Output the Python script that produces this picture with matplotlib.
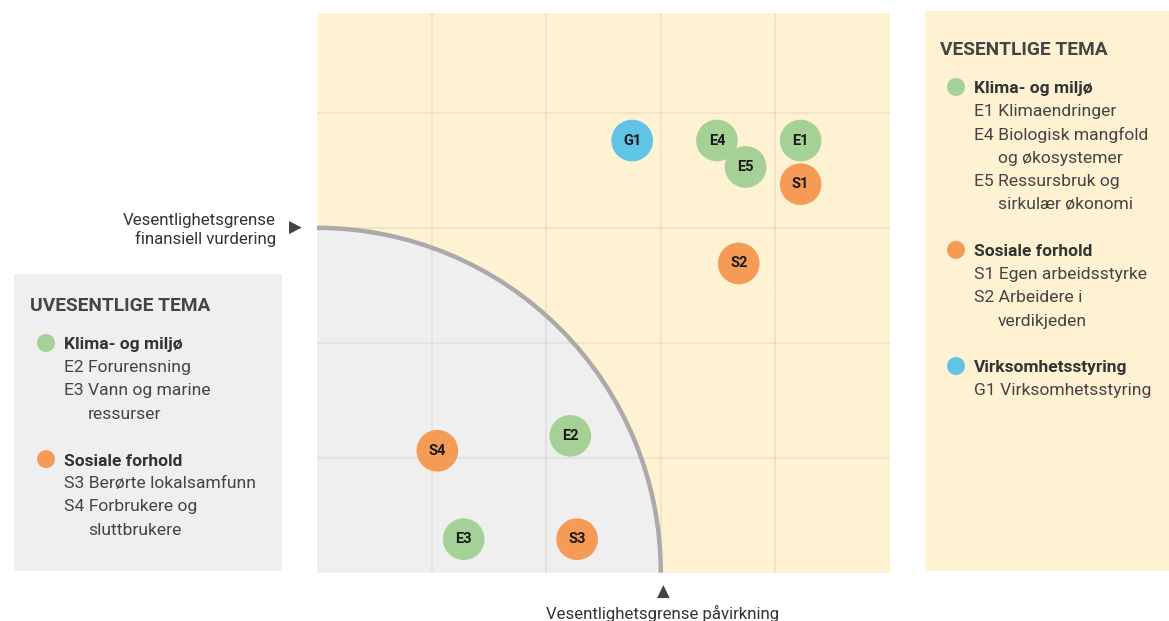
import matplotlib.pyplot as plt
from matplotlib.patches import Wedge, Arc, Rectangle, Ellipse
import numpy as np

plt.rcParams['font.family'] = ['Roboto', 'DejaVu Sans']

# data: tema, x = paavirkning, y = finansiell
koder = ["G1", "E4", "E1", "E5", "S1", "S2", "E2", "S4", "E3", "S3"]
xverdi = [2.75, 3.49, 4.22, 3.74, 4.22, 3.68, 2.21, 1.05, 1.28, 2.27]
yverdi = [3.76, 3.76, 3.76, 3.53, 3.38, 2.69, 1.19, 1.06, 0.29, 0.29]
grense = 3.0

farger = {"E": "#a6d196", "S": "#f59b56", "G": "#60c4e5"}

vesentlige = [
    ("E", "Klima- og miljø", ["E1 Klimaendringer", "E4 Biologisk mangfold", "   og økosystemer",
                              "E5 Ressursbruk og", "   sirkulær økonomi"]),
    ("S", "Sosiale forhold", ["S1 Egen arbeidsstyrke", "S2 Arbeidere i", "   verdikjeden"]),
    ("G", "Virksomhetsstyring", ["G1 Virksomhetsstyring"]),
]
uvesentlige = [
    ("E", "Klima- og miljø", ["E2 Forurensning", "E3 Vann og marine", "   ressurser"]),
    ("S", "Sosiale forhold", ["S3 Berørte lokalsamfunn", "S4 Forbrukere og", "   sluttbrukere"]),
]

W, H = 1169, 621
fig = plt.figure(figsize=(W / 100, H / 100), dpi=100)

def fx(px):
    return px / W

def fy(py):
    return 1 - py / H

# paneler
fig.add_artist(Rectangle((fx(925), fy(571)), fx(1169) - fx(925), fy(11) - fy(571),
                         transform=fig.transFigure, facecolor="#fef2d2", edgecolor="none", zorder=0))
fig.add_artist(Rectangle((fx(14), fy(571)), fx(282) - fx(14), fy(274) - fy(571),
                         transform=fig.transFigure, facecolor="#efefef", edgecolor="none", zorder=0))

ax = fig.add_axes([fx(317), fy(572.5), fx(890) - fx(317), fy(13) - fy(572.5)])
ax.set_facecolor("#fef2d2")
ax.set_xlim(0, 5)
ax.set_ylim(0, 4.87)
for s in ax.spines.values():
    s.set_visible(False)
ax.set_xticks([])
ax.set_yticks([])

ax.add_patch(Wedge((0, 0), grense, 0, 90, facecolor="#efefef", edgecolor="none", zorder=1))
for v in [1, 2, 3, 4]:
    ax.axvline(v, color="black", alpha=0.05, lw=1.6, zorder=2)
    ax.axhline(v, color="black", alpha=0.05, lw=1.6, zorder=2)
ax.add_patch(Arc((0, 0), 2 * grense, 2 * grense, theta1=0, theta2=90,
                 color="#aaaaaa", lw=3.2, zorder=3))

for k, x, y in zip(koder, xverdi, yverdi):
    ax.scatter(x, y, s=900, color=farger[k[0]], edgecolors="none", zorder=4, clip_on=False)
    ax.text(x, y, k, ha="center", va="center", fontsize=10.5, fontweight="bold",
            color="#1a1a1a", zorder=5)

# grense-markoerer
fig.text(fx(276), fy(230), "Vesentlighetsgrense\nfinansiell vurdering", ha="right", va="center",
         fontsize=12.2, color="#333333", linespacing=1.2)
fig.text(fx(295), fy(228), "\u25B6", ha="center", va="center", fontsize=12, color="#444444",
         family=["DejaVu Sans"])
fig.text(fx(663), fy(592), "\u25B2", ha="center", va="center", fontsize=12, color="#444444",
         family=["DejaVu Sans"])
fig.text(fx(663), fy(613), "Vesentlighetsgrense påvirkning", ha="center", va="center",
         fontsize=12.1, color="#333333")

def tegn_panel(x0, ytitle, tittel, grupper):
    fig.text(fx(x0), fy(ytitle), tittel, ha="left", va="center", fontsize=13.8,
             fontweight="bold", color="#444444")
    y = ytitle + 38
    for g, navn, linjer in grupper:
        fig.add_artist(Ellipse((fx(x0 + 16), fy(y - 1)), 18 / W, 18 / H, transform=fig.transFigure,
                               facecolor=farger[g], edgecolor="none"))
        fig.text(fx(x0 + 34), fy(y + 1), navn, ha="left", va="center", fontsize=12.5,
                 fontweight="bold", color="#333333")
        y += 23.4
        for l in linjer:
            if l.startswith("   "):
                fig.text(fx(x0 + 58), fy(y), l.strip(), ha="left", va="center",
                         fontsize=12.6, color="#444444")
            else:
                fig.text(fx(x0 + 34), fy(y), l, ha="left", va="center",
                         fontsize=12.6, color="#444444")
            y += 23.4
        y += 22.5

tegn_panel(940, 50, "VESENTLIGE TEMA", vesentlige)
tegn_panel(30, 306, "UVESENTLIGE TEMA", uvesentlige)

fig.savefig("out.png", dpi=100)
